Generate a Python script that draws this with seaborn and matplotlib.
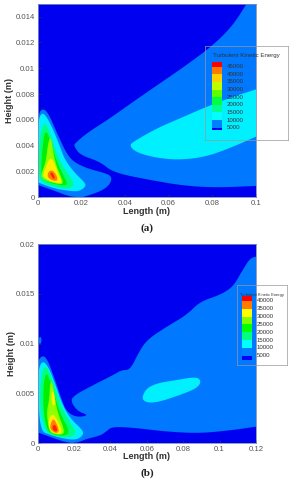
import matplotlib
matplotlib.use("Agg")
import matplotlib.pyplot as plt
import numpy as np
import seaborn as sns

# ---------- legend data ----------
levels_a = [45000, 40000, 35000, 30000, 25000, 20000, 15000, 10000, 5000]
colors_a = ["#ff0000", "#ff7a00", "#ffd000", "#c0ff00", "#60ff00", "#00ff40", "#00ff90", "#00ffff", "#0080ff", "#0000ff"]
levels_b = [40000, 35000, 30000, 25000, 20000, 15000, 10000, 5000]
colors_b = ["#ff0000", "#ff7a00", "#ffff00", "#80ff00", "#00ff00", "#00ff80", "#00ffff", "#0080ff", "#0000ff"]
legend_title = "Turbulent Kinetic Energy"

# ---------- contour colours, low to high ----------
BG = "#0000f0"
C05, C10, C15, C20, C25, C30, C35, C40 = "#0078ff", "#00f0ff", "#00ff80", "#00f000", "#90ff00", "#ffee00", "#ff8000", "#ff2000"

# ---------- panel (a) contours: (length, height) in m ----------
a_plume = [(.0957,.015),(.1,.015),(.1,.00088),(.082,.00075),(.0667,.0009),(.0515,.00134),(.0347,.00191),(.0285,.00276),
           (.0194,.00328),(.0166,.00398),(.0171,.00418),(.0224,.00496),(.0331,.00612),(.0438,.00741),(.056,.00883),
           (.0682,.01025),(.0805,.0118),(.0896,.01335)]
a_core = [(.1,.00836),(.0896,.0078),(.0774,.00702),(.0652,.00612),(.0545,.00534),(.0438,.00431),(.042,.004),(.0453,.00346),
          (.0545,.00305),(.0652,.00289),(.0774,.00315),(.0896,.00392),(.1,.0047)]
a_j05 = [(0,.00599),(.0011,.00676),(.0034,.00682),(.0056,.00625),(.0079,.00534),(.011,.00418),(.0133,.0034),(.0163,.00276),
         (.0224,.00225),(.0301,.00191),(.0339,.00165),(.0334,.00108),(.0301,.00057),(.024,.00018),(.0202,0),(.0148,.00005),
         (.0087,.00044),(0,.00096)]
a_j10 = [(0,.00496),(.0005,.00612),(.002,.00656),(.0041,.00625),(.0072,.00522),(.0102,.00392),(.0125,.00289),(.0171,.00186),
         (.022,.00108),(.0217,.00077),(.0186,.00044),(.0133,.00052),(.0072,.0007),(0,.00116)]
a_j15 = [(.0006,.00367),(.0015,.00522),(.0034,.00578),(.0049,.00534),(.0072,.00418),(.0102,.00276),(.0148,.0016),(.0171,.00088),
         (.0133,.00062),(.0064,.00088),(.0011,.00121),(.0003,.00238)]
a_j20 = [(.0014,.00212),(.0026,.0047),(.0041,.00522),(.006,.00418),(.009,.00263),(.0125,.00147),(.014,.00088),(.0072,.00103),(.0023,.00139)]
a_j25 = [(.0014,.00173),(.0038,.00276),(.0047,.00418),(.006,.00475),(.0069,.00367),(.0084,.0025),(.011,.00147),(.0118,.00096),
         (.0064,.00114),(.0026,.00139)]
a_j30 = [(.0023,.00173),(.0044,.00263),(.0056,.00302),(.0072,.00289),(.0095,.00173),(.0115,.00108),(.0072,.00114),(.0034,.00147)]
a_j35 = [(.0044,.00173),(.0053,.00207),(.0072,.00207),(.009,.0016),(.009,.00127),(.0069,.00129),(.005,.00147)]
a_j40 = [(.0056,.00186),(.0066,.00196),(.0079,.00155),(.0075,.00139),(.0066,.00155)]

# ---------- panel (b) contours ----------
b_main = [(0,.00819),(.0022,.00879),(.0049,.00859),(.0086,.00685),(.0132,.00433),(.0159,.00315),(.0214,.00258),(.0282,.00279),
          (.0224,.00315),(.0187,.00399),(.0187,.00466),(.0306,.00584),(.0416,.00685),(.0462,.00735),(.0508,.00735),(.0553,.00903),
          (.0599,.01037),(.0709,.01171),(.0819,.01289),(.0892,.01423),(.1002,.0149),(.1075,.01574),(.1121,.01725),(.1167,.01859),
          (.12,.01876),(.12,.00164),(.1075,.00131),(.0892,.00097),(.0709,.00114),(.0526,.00154),(.0407,.00164),(.0376,.00114),
          (.0343,.00074),(.0266,.0004),(.0224,.00007),(.0187,0),(.0141,.00013),(0,.00107)]
b_spot = [(.0005,.0103),(.0012,.0108),(.0024,.0104),(.0012,.0098)]
b_core = [(.0577,.00477),(.0599,.0055),(.0654,.00601),(.0764,.00634),(.0874,.00668),(.09,.00617),(.0874,.0055),(.0782,.00483),
          (.0672,.00416),(.0608,.00403),(.0577,.00433)]
b_j10 = [(.0002,.00534),(.0005,.00752),(.0027,.00829),(.0059,.00768),(.0095,.00601),(.0132,.00399),(.0178,.00248),(.0247,.00131),
         (.0251,.00081),(.0214,.0003),(.0141,.00044),(.0068,.00081),(.0013,.00124)]
b_j15 = [(.004,.00148),(.0016,.00299),(.0013,.00534),(.0024,.00718),(.0042,.00785),(.0068,.00701),(.0104,.00517),(.0141,.00315),
         (.0205,.00138),(.0211,.00097),(.0178,.00054),(.0104,.00064),(.0059,.00091)]
b_j20 = [(.0049,.00148),(.0031,.00315),(.0031,.00601),(.0049,.00718),(.0068,.00617),(.0095,.00466),(.0123,.00299),(.0178,.00114),
         (.015,.0007),(.0095,.00081),(.0068,.00104)]
b_j25 = [(.0059,.00164),(.0049,.00315),(.0064,.00433),(.0068,.00607),(.0081,.00617),(.0095,.00433),(.0114,.00282),(.015,.00114),
         (.0132,.00081),(.0086,.00091),(.0068,.00114)]
b_j30a = [(.0077,.00517),(.0088,.00517),(.0099,.00399),(.0088,.00372),(.0077,.00399)]
b_j30b = [(.0059,.00181),(.0064,.00258),(.0082,.00292),(.0104,.00248),(.0137,.00114),(.0119,.00087),(.0086,.00104),(.0068,.00131)]
b_j35 = [(.0068,.00171),(.0079,.00232),(.0093,.00238),(.0119,.00131),(.0108,.00097),(.0086,.00111),(.0071,.00138)]
b_j40 = [(.0081,.00164),(.0092,.00191),(.0104,.00158),(.0108,.00124),(.0095,.00114),(.0082,.00138)]

a_xticks = [0, .02, .04, .06, .08, .1]
a_yticks = [0, .002, .004, .006, .008, .01, .012, .014]
b_xticks = [0, .02, .04, .06, .08, .1, .12]
b_yticks = [0, .005, .01, .015, .02]

sns.set_theme(style="ticks")
plt.rcParams["font.family"] = ["Liberation Sans", "DejaVu Sans"]
W, H = 292, 480
fig = plt.figure(figsize=(W / 100, H / 100), dpi=100, facecolor="white")


def box(x0, y0, x1, y1):
    return [x0 / W, 1 - y1 / H, (x1 - x0) / W, (y1 - y0) / H]


def smooth(pts, xmax, ymax, rounds=3):
    """Round the outline corners, keeping vertices that sit on the plot border."""
    p = np.array(pts, float)
    pinned = lambda v: v[0] in (0, xmax) or v[1] in (0, ymax)
    for _ in range(rounds):
        out = []
        for i in range(len(p)):
            a, b = p[i], p[(i + 1) % len(p)]
            out.append(a if pinned(a) else .75 * a + .25 * b)
            out.append(b if pinned(b) else .25 * a + .75 * b)
        p = np.array(out)
    return p


def fmt(v):
    return "0" if v == 0 else f"{v:g}"


def panel(rect, xmax, ymax, xticks, yticks, layers, xlab_y, ylab_x, ylab_y):
    ax = fig.add_axes(box(*rect))
    ax.set_facecolor(BG)
    for pts, col in layers:
        s = smooth(pts, xmax, ymax)
        ax.fill(s[:, 0], s[:, 1], color=col, lw=0)
    ax.set_xlim(0, xmax)
    ax.set_ylim(0, ymax)
    ax.set_xticks(xticks, [fmt(v) for v in xticks])
    ax.set_yticks(yticks, [fmt(v) for v in yticks])
    ax.tick_params(direction="in", length=2.5, width=.5, color="#303050", labelsize=5.6, labelcolor="#555555", pad=2)
    for sp in ax.spines.values():
        sp.set_linewidth(.6)
        sp.set_color("#7f8fb0")
    ax.set_xlabel("Length (m)", fontsize=6.5, fontweight="bold", color="#333333", va="center")
    ax.set_ylabel("Height (m)", fontsize=6.5, fontweight="bold", color="#333333", va="center")
    ax.xaxis.set_label_coords(.5, xlab_y)
    ax.yaxis.set_label_coords(ylab_x, ylab_y)
    return ax


def legend(rect, levels, colors, swatch, s_top, s_bot, lim, title_size, title_x):
    ax = fig.add_axes(box(*rect), facecolor="none")
    ax.set_xlim(0, 1)
    ax.set_ylim(*lim)
    edges = [s_top] + list(levels) + [s_bot]
    for top, bot, col in zip(edges[:-1], edges[1:], colors):
        ax.bar(swatch[0], top - bot, bottom=bot, width=swatch[1], align="edge", color=col, lw=0)
    for lv in levels:
        ax.text(swatch[2], lv, str(lv), fontsize=4.4, color="#333333", va="center", ha="left")
    ax.text(title_x, 1 - 9.7 / (rect[3] - rect[1]), legend_title, transform=ax.transAxes, fontsize=title_size,
            color="#333333", ha="center", va="center")
    ax.set_xticks([])
    ax.set_yticks([])
    for sp in ax.spines.values():
        sp.set_linewidth(.5)
        sp.set_color("#999999")


layers_a = [(a_plume, C05), (a_core, C10), (a_j05, C05), (a_j10, C10), (a_j15, C15), (a_j20, C20),
            (a_j25, C25), (a_j30, C30), (a_j35, C35), (a_j40, C40)]
layers_b = [(b_main, C05), (b_spot, C05), (b_core, C10), (b_j10, C10), (b_j15, C15), (b_j20, C20),
            (b_j25, C25), (b_j30a, C30), (b_j30b, C30), (b_j35, C35), (b_j40, C40)]

panel((37.7, 3.7, 256, 197.3), .1, .015, a_xticks, a_yticks, layers_a, -.071, -.131, .5)
panel((37.7, 244.3, 256, 443), .12, .02, b_xticks, b_yticks, layers_b, -.07, -.118, .45)

legend((205, 46, 287.5, 140), levels_a, colors_a, (.081, .122, .263), 48000, 3500, (-3066, 58570), 4.4, .5)
legend((237.3, 285, 287.3, 365), levels_b, colors_b, (.088, .2, .388), 43200, 2260, (-950, 50237), 2.9, .5)

fig.text(147 / W, 1 - 228 / H, "(a)", family="Liberation Serif", fontweight="bold", fontsize=8, color="#222222", ha="center", va="center")
fig.text(147 / W, 1 - 473 / H, "(b)", family="Liberation Serif", fontweight="bold", fontsize=8, color="#222222", ha="center", va="center")

fig.savefig("out.png", dpi=100, facecolor="white")
